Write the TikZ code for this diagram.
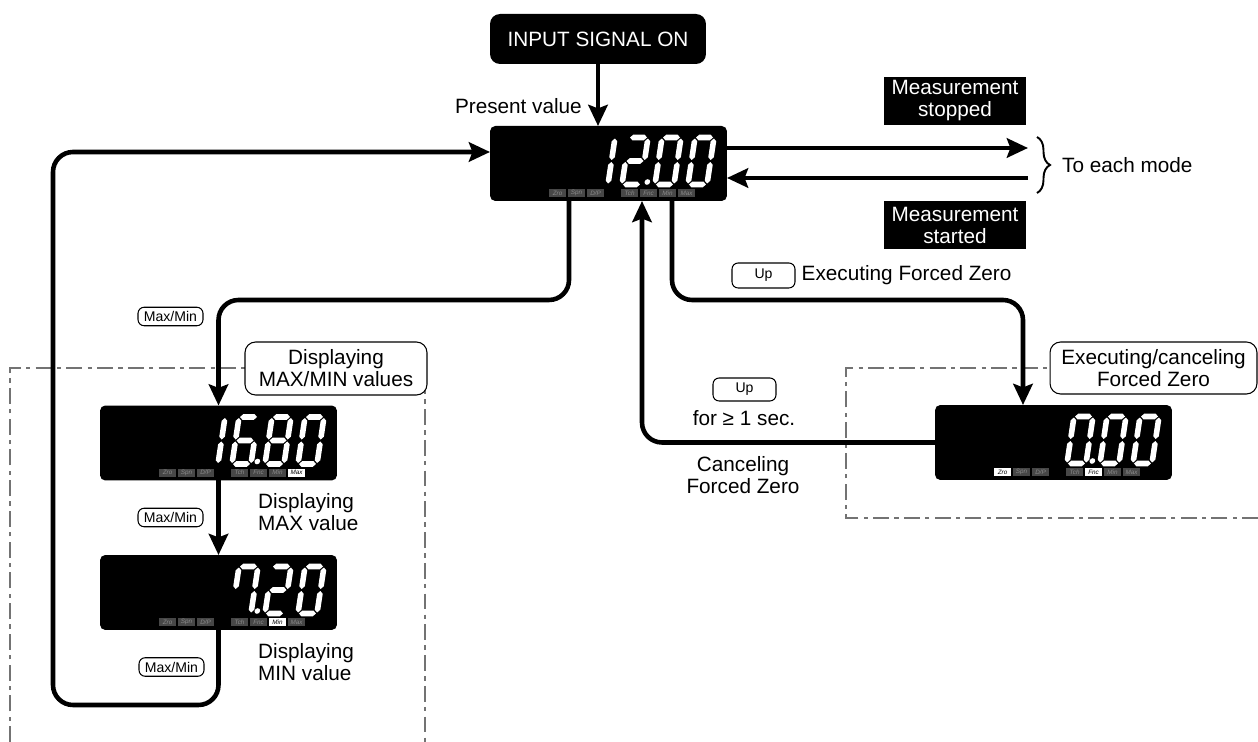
\documentclass[tikz,border=0pt]{standalone}
\usepackage{fontspec}
\setmainfont{Liberation Sans}
\usepackage{xstring}
\usetikzlibrary{arrows.meta,decorations.pathreplacing}

% segmentos del visor (7 segmentos)
\newcommand{\segH}[2]{\fill (#1+1,#2) -- ++(2.8,-2.8) -- ++(11.4,0) -- ++(2.8,2.8) -- ++(-2.8,2.8) -- ++(-11.4,0) -- cycle;}
\newcommand{\segV}[2]{\fill (#1,#2+1) -- ++(2.8,2.8) -- ++(0,15.9) -- ++(-2.8,2.8) -- ++(-2.8,-2.8) -- ++(0,-15.9) -- cycle;}
\newcommand{\digito}[2]{%
  \begin{scope}[shift={(#1)},xslant=0.15]
    \foreach \sg/\ori/\sx/\sy in {a/H/0/0,b/V/19/0,c/V/19/23.5,d/H/0/47,e/V/0/23.5,f/V/0/0,g/H/0/23.5}
      {\IfSubStr{#2}{\sg}{\csname seg\ori\endcsname{\sx}{\sy}}{}}
  \end{scope}}
\newcommand{\punto}[1]{\begin{scope}[shift={(#1)},xslant=0.15]\fill (25,44.5) circle (1.6pt);\end{scope}}
\newcommand{\indicadores}[2]{%
  \begin{scope}[shift={(#1.north west)}]
    \foreach \dx/\tg in {59/Zro,78/Spn,97/{D/P},131/Tch,150/Fnc,169/Min,188/Max}
      {\IfSubStr{#2}{\tg}{\node[tagon] at (\dx+8.5,67) {\tg};}{\node[tag] at (\dx+8.5,67) {\tg};}}
  \end{scope}}

\tikzset{
  disp/.style={fill=black,rounded corners=3pt,minimum width=4.74cm,minimum height=1.5cm,inner sep=0pt,outer sep=0pt},
  tag/.style={fill=black!72,text=black!45,minimum width=0.34cm,minimum height=0.16cm,inner sep=0pt,font=\fontsize{3.6}{3.6}\selectfont\itshape},
  tagon/.style={tag,fill=white,text=black},
  tecla/.style={draw,line width=0.6pt,rounded corners=3.5pt,inner sep=0pt,font=\fontsize{8}{8}\selectfont},
  marco/.style={draw=black!55,line width=0.8pt,dash pattern=on 9pt off 3pt on 2.5pt off 3pt},
  etiqueta/.style={draw,fill=white,line width=0.6pt,rounded corners=6pt,align=center,inner sep=0pt},
  negro/.style={fill=black,text=white,align=center,inner sep=0pt,minimum width=2.84cm,minimum height=0.96cm},
  flecha/.style={line width=2.6pt,-{Stealth[length=12pt,width=11pt,inset=2pt]},rounded corners=0.4cm},
}

\begin{document}
\begin{tikzpicture}[x=0.02cm,y=-0.02cm,font=\fontsize{11.8}{12.5}\selectfont]
  \useasboundingbox (0,0) rectangle (1258,742);
  % marcos de modo
  \draw[marco] (10,742) -- (10,368) -- (425,368) -- (425,742);
  \draw[marco] (1258,518) -- (846,518) -- (846,368) -- (1258,368);
  % visores
  \node[fill=black,text=white,rounded corners=0.2cm,minimum width=4.32cm,minimum height=1cm] (inp) at (598,39) {INPUT SIGNAL ON};
  \node[disp] (pv) at (608.5,163.5) {};
  \node[disp] (mx) at (218.5,443) {};
  \node[disp] (mn) at (218.5,592.5) {};
  \node[disp] (fz) at (1053.5,442.5) {};
  \begin{scope}[shift={(pv.north west)},white]
    \digito{106,11.5}{bc} \digito{139,11.5}{abged} \punto{139,11.5}
    \digito{172,11.5}{abcdef} \digito{205,11.5}{abcdef}
  \end{scope}
  \begin{scope}[shift={(mx.north west)},white]
    \digito{106,11.5}{bc} \digito{139,11.5}{afgedc} \punto{139,11.5}
    \digito{172,11.5}{abcdefg} \digito{205,11.5}{abcdef}
  \end{scope}
  \begin{scope}[shift={(mn.north west)},white]
    \digito{139,11.5}{abcf} \punto{139,11.5}
    \digito{172,11.5}{abged} \digito{205,11.5}{abcdef}
  \end{scope}
  \begin{scope}[shift={(fz.north west)},white]
    \digito{139,11.5}{abcdef} \punto{139,11.5}
    \digito{172,11.5}{abcdef} \digito{205,11.5}{abcdef}
  \end{scope}
  \indicadores{pv}{}
  \indicadores{mx}{Max}
  \indicadores{mn}{Min}
  \indicadores{fz}{Zro,Fnc}
  % textos y teclas
  \node[anchor=east] (pres) at (588,106) {Present value};
  \node[negro] (stop) at (955,101) {Measurement\\stopped};
  \node[negro] (start) at (955,225.5) {Measurement\\started};
  \draw[line width=1.1pt,decorate,decoration={brace,amplitude=0.26cm}] (1037,137) -- (1037,193);
  \node[anchor=west] (modos) at (1056,165) {To each mode};
  \node[tecla,minimum width=1.3cm,minimum height=0.37cm] (k1) at (170.5,316.5) {Max/Min};
  \node[tecla,minimum width=1.3cm,minimum height=0.37cm] (k2) at (170.5,517.5) {Max/Min};
  \node[tecla,minimum width=1.3cm,minimum height=0.37cm] (k3) at (171.5,667) {Max/Min};
  \node[tecla,minimum width=1.26cm,minimum height=0.5cm] (up1) at (763.5,275.5) {Up};
  \node[anchor=west] (exe) at (up1.east) {Executing Forced Zero};
  \node[tecla,minimum width=1.26cm,minimum height=0.46cm] (up2) at (744.5,389.5) {Up};
  \node (unseg) at (744,418) {for ≥ 1 sec.};
  \node[align=center] (canc) at (743,475) {Canceling\\Forced Zero};
  \node[align=left,anchor=north west] (dmax) at (252,487) {Displaying\\MAX value};
  \node[align=left,anchor=north west] (dmin) at (252,637) {Displaying\\MIN value};
  % conexiones
  \coordinate (m1) at (569,300);
  \coordinate (m2) at (53,705);
  \coordinate (m3) at (672,300);
  \coordinate (m4) at (1023,300);
  \coordinate (m5) at (642,443);
  \coordinate (modo1) at (1028,148);
  \coordinate (modo2) at (1028,178);
  \draw[flecha] (inp.south) -- (inp.south |- pv.north);
  \draw[flecha] (pv.south -| m1) -- (m1) -| (mx.north);
  \draw[flecha] (mx) -- (mn);
  \draw[flecha] (mn.south) |- (m2) |- ([yshift=0.23cm]pv.west);
  \draw[flecha] (pv.south -| m3) -- (m3) -- (m4) -- (m4 |- fz.north);
  \draw[flecha] (fz.west) -| (m5 |- pv.south);
  \draw[flecha] (pv.east |- modo1) -- (modo1);
  \draw[flecha] (modo2) -- (pv.east |- modo2);
  % etiquetas de modo
  \node[etiqueta,minimum width=3.64cm,minimum height=1.06cm] (lmm) at (336,368.5) {Displaying\\MAX/MIN values};
  \node[etiqueta,minimum width=4.14cm,minimum height=1.04cm] (lfz) at (1153.5,368) {Executing/canceling\\Forced Zero};
\end{tikzpicture}
\end{document}
